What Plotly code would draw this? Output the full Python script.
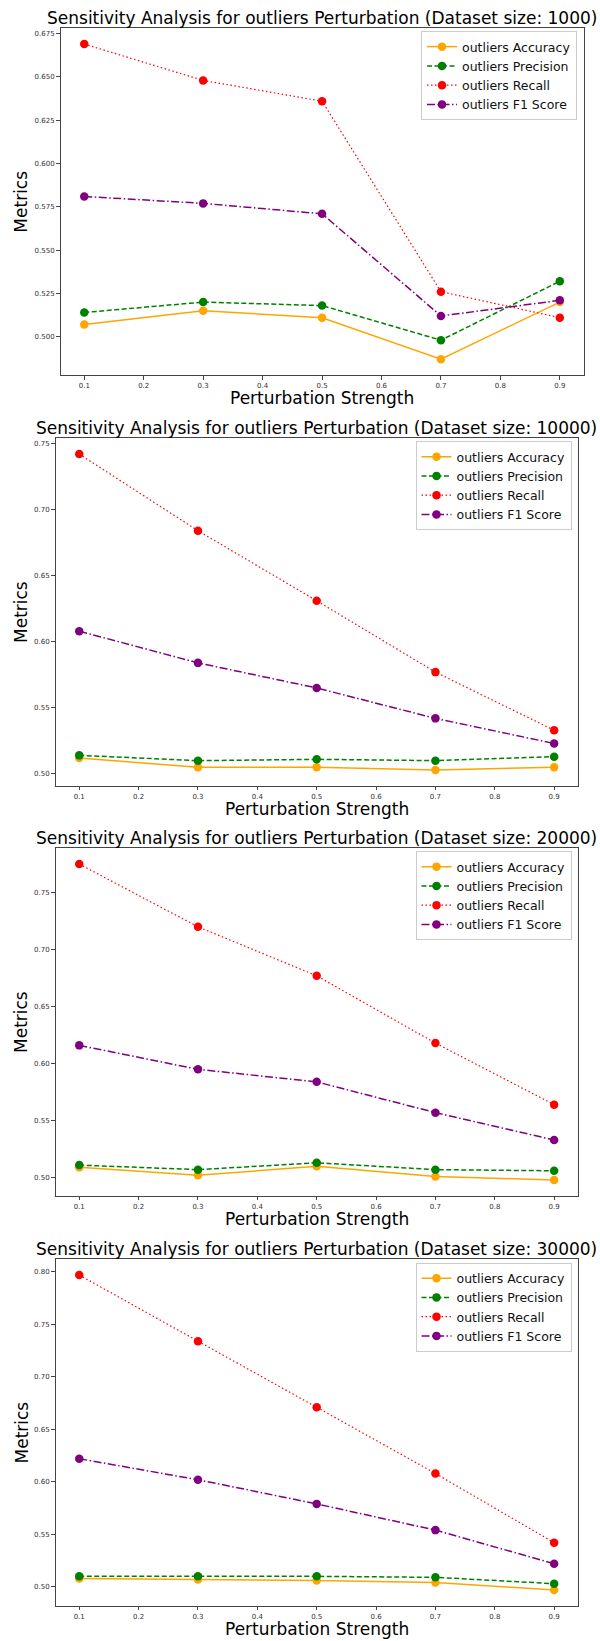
import plotly.graph_objects as go

# ---------------- data ----------------
strengths = [0.1, 0.3, 0.5, 0.7, 0.9]
dataset_sizes = [1000, 10000, 20000, 30000]
metric_names = ["outliers Accuracy", "outliers Precision", "outliers Recall", "outliers F1 Score"]

accuracy_1000 = [0.507, 0.515, 0.511, 0.487, 0.520]
precision_1000 = [0.514, 0.520, 0.518, 0.498, 0.532]
recall_1000 = [0.669, 0.648, 0.636, 0.526, 0.511]
f1_1000 = [0.581, 0.577, 0.571, 0.512, 0.521]

accuracy_10000 = [0.512, 0.505, 0.505, 0.503, 0.505]
precision_10000 = [0.514, 0.510, 0.511, 0.510, 0.513]
recall_10000 = [0.742, 0.684, 0.631, 0.577, 0.533]
f1_10000 = [0.608, 0.584, 0.565, 0.542, 0.523]

accuracy_20000 = [0.509, 0.502, 0.510, 0.501, 0.498]
precision_20000 = [0.511, 0.507, 0.513, 0.507, 0.506]
recall_20000 = [0.775, 0.720, 0.677, 0.618, 0.564]
f1_20000 = [0.616, 0.595, 0.584, 0.557, 0.533]

accuracy_30000 = [0.508, 0.507, 0.506, 0.504, 0.497]
precision_30000 = [0.510, 0.510, 0.510, 0.509, 0.503]
recall_30000 = [0.797, 0.734, 0.671, 0.608, 0.542]
f1_30000 = [0.622, 0.602, 0.579, 0.554, 0.522]

x_ticks = [0.1, 0.2, 0.3, 0.4, 0.5, 0.6, 0.7, 0.8, 0.9]
y_ticks_1000 = [0.500, 0.525, 0.550, 0.575, 0.600, 0.625, 0.650, 0.675]
y_ticks_10000 = [0.50, 0.55, 0.60, 0.65, 0.70, 0.75]
y_ticks_20000 = [0.50, 0.55, 0.60, 0.65, 0.70, 0.75]
y_ticks_30000 = [0.50, 0.55, 0.60, 0.65, 0.70, 0.75, 0.80]

panels_data = [
    (accuracy_1000, precision_1000, recall_1000, f1_1000, y_ticks_1000, ".3f"),
    (accuracy_10000, precision_10000, recall_10000, f1_10000, y_ticks_10000, ".2f"),
    (accuracy_20000, precision_20000, recall_20000, f1_20000, y_ticks_20000, ".2f"),
    (accuracy_30000, precision_30000, recall_30000, f1_30000, y_ticks_30000, ".2f"),
]

# ---------------- layout geometry (pixels) ----------------
W, H = 600, 1641
# (left, right, top, bottom) of each plot area
boxes = [
    (60.5, 583.6, 28.3, 375.0),
    (55.5, 577.9, 438.3, 785.7),
    (55.5, 577.9, 848.3, 1195.7),
    (55.5, 577.9, 1259.3, 1605.7),
]
title_y = [18, 428, 838, 1249]
xlabel_y = [398, 809, 1219, 1629]
legend_pos = [(577, 31), (571.5, 441), (571.5, 851), (571.5, 1262.5)]

styles = [
    dict(color="orange", dash="solid", width=1.5),
    dict(color="green", dash="5px,2.5px", width=1.5),
    dict(color="red", dash="1.5px,2.5px", width=1.2),
    dict(color="purple", dash="8px,2.5px,1.5px,2.5px", width=1.5),
]

FONT = "DejaVu Sans"


def px_x(v):
    return v / W


def px_y(v):
    return 1 - v / H


fig = go.Figure()
annotations = []

for i, (acc, prec, rec, f1, yt, yfmt) in enumerate(panels_data):
    n = "" if i == 0 else str(i + 1)
    legend_name = "legend" + n
    series = [acc, prec, rec, f1]
    for name, vals, st in zip(metric_names, series, styles):
        fig.add_trace(go.Scatter(
            x=strengths, y=vals, name=name, mode="lines+markers",
            line=dict(color=st["color"], dash=st["dash"], width=st["width"]),
            marker=dict(color=st["color"], size=8.5),
            xaxis="x" + n, yaxis="y" + n, legend=legend_name,
        ))
    allv = [v for s in series for v in s]
    lo, hi = min(allv), max(allv)
    pad = (hi - lo) * 0.05
    l, r, t, b = boxes[i]
    axis_common = dict(
        showline=True, linecolor="#444", linewidth=1, mirror=True,
        ticks="outside", ticklen=3.5, tickwidth=0.8, tickcolor="#444",
        showgrid=False, zeroline=False,
        tickfont=dict(family=FONT, size=7, color="#333"),
    )
    fig.update_layout(**{
        "xaxis" + n: dict(
            domain=[px_x(l), px_x(r)], anchor="y" + n,
            range=[0.06, 0.94], tickvals=x_ticks,
            ticktext=["%.1f" % v for v in x_ticks], **axis_common),
        "yaxis" + n: dict(
            domain=[px_y(b), px_y(t)], anchor="x" + n,
            range=[lo - pad, hi + pad], tickvals=yt,
            ticktext=[format(v, yfmt) for v in yt], **axis_common),
        legend_name: dict(
            x=px_x(legend_pos[i][0]), y=px_y(legend_pos[i][1]),
            xanchor="right", yanchor="top",
            bgcolor="rgba(255,255,255,0.8)", bordercolor="#cccccc", borderwidth=1,
            font=dict(family=FONT, size=12.5, color="#111"),
            tracegroupgap=0, itemwidth=30,
        ),
    })
    cx = (l + r) / 2
    annotations.append(dict(
        text="Sensitivity Analysis for outliers Perturbation (Dataset size: %d)" % dataset_sizes[i],
        x=px_x(cx), y=px_y(title_y[i]), xref="paper", yref="paper",
        xanchor="center", yanchor="middle", showarrow=False,
        font=dict(family=FONT, size=17, color="black")))
    annotations.append(dict(
        text="Perturbation Strength", x=px_x(cx), y=px_y(xlabel_y[i]),
        xref="paper", yref="paper", xanchor="center", yanchor="middle",
        showarrow=False, font=dict(family=FONT, size=17, color="black")))
    annotations.append(dict(
        text="Metrics", x=px_x(21), y=px_y((t + b) / 2),
        xref="paper", yref="paper", xanchor="center", yanchor="middle",
        textangle=-90, showarrow=False,
        font=dict(family=FONT, size=17, color="black")))

fig.update_layout(
    width=W, height=H,
    margin=dict(l=0, r=0, t=0, b=0),
    paper_bgcolor="white", plot_bgcolor="white",
    annotations=annotations,
    showlegend=True,
)

fig.write_html("out.html")
